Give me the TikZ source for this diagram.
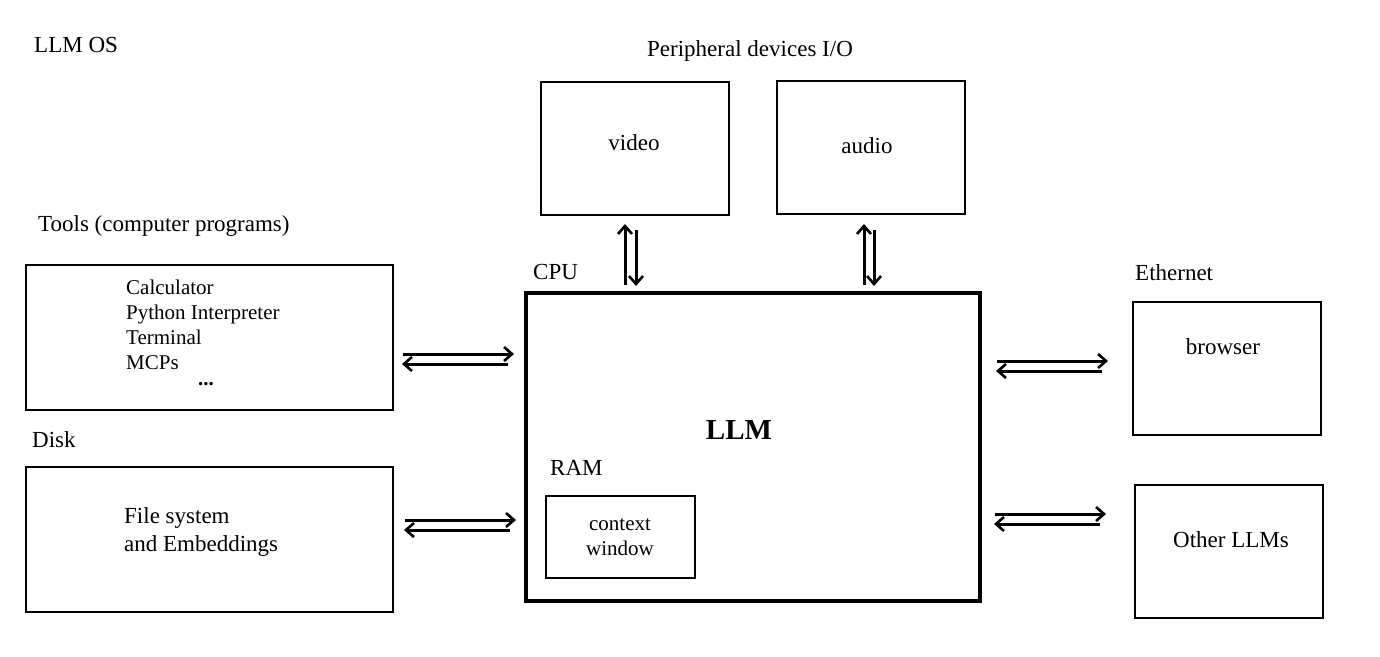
\documentclass[tikz,border=0pt]{standalone}
\usepackage{fontspec}
\setmainfont{Liberation Serif}
\usetikzlibrary{arrows.meta}
\begin{document}
\begin{tikzpicture}[x=1pt,y=-1pt,
  box/.style={draw,line width=2.2pt},
  lbl/.style={font=\fontsize{23}{26}\selectfont,inner sep=0},
  ar/.style={line width=3pt,-{Straight Barb[length=8pt,width=14pt,line width=2.6pt]}}]
\useasboundingbox (0,0) rectangle (1380,656);
\node[lbl,anchor=west] (os) at (34,45) {LLM OS};
\node[lbl] (per) at (750,51) {Peripheral devices I/O};
\node[lbl,anchor=west] (toolsl) at (38,226) {Tools (computer programs)};
\node[lbl,anchor=west] (diskl) at (32,440) {Disk};
\node[lbl,anchor=west] (cpul) at (533,272) {CPU};
\node[lbl,anchor=west] (ethl) at (1135,273) {Ethernet};
\node[lbl,anchor=west] (raml) at (550,468) {RAM};

\draw[box] (26,265) rectangle (393,410);
\node[lbl,anchor=north west,align=left,font=\fontsize{21}{25}\selectfont] (tt) at (126,280) {Calculator\\Python Interpreter\\Terminal\\MCPs};
\node[lbl,font=\bfseries\fontsize{21}{20}\selectfont] (dots) at (206,384) {...};

\draw[box] (26,467) rectangle (393,612);
\node[lbl,anchor=north west,align=left,font=\fontsize{23}{28}\selectfont] (fs) at (124,507) {File system\\ and Embeddings};

\draw[line width=4.5pt] (526,293) rectangle (980,601);
\node[lbl,font=\bfseries\fontsize{29}{30}\selectfont] (llm) at (739,430) {LLM};
\draw[box] (546,496) rectangle (695,578);
\node[lbl,align=center,font=\fontsize{21}{25}\selectfont] (cw) at (620,537) {context\\window};

\draw[box] (541,82) rectangle (729,215);
\node[lbl] (video) at (634,143) {video};
\draw[box] (777,81) rectangle (965,214);
\node[lbl] (audio) at (867,146) {audio};
\draw[box] (1133,302) rectangle (1321,435);
\node[lbl] (browser) at (1223,347) {browser};
\draw[box] (1135,485) rectangle (1323,618);
\node[lbl] (other) at (1231,540) {Other LLMs};

\draw[ar] (403,354) -- (514,354);
\draw[ar] (508,364) -- (402,364);
\draw[ar] (405,520) -- (516,520);
\draw[ar] (510,530) -- (404,530);
\draw[ar] (997,361) -- (1108,361);
\draw[ar] (1102,371) -- (996,371);
\draw[ar] (995,514) -- (1106,514);
\draw[ar] (1100,524) -- (994,524);
\draw[ar] (625,285) -- (625,224);
\draw[ar] (636,230) -- (636,286);
\draw[ar] (864,285) -- (864,224);
\draw[ar] (874,230) -- (874,286);
\end{tikzpicture}
\end{document}
